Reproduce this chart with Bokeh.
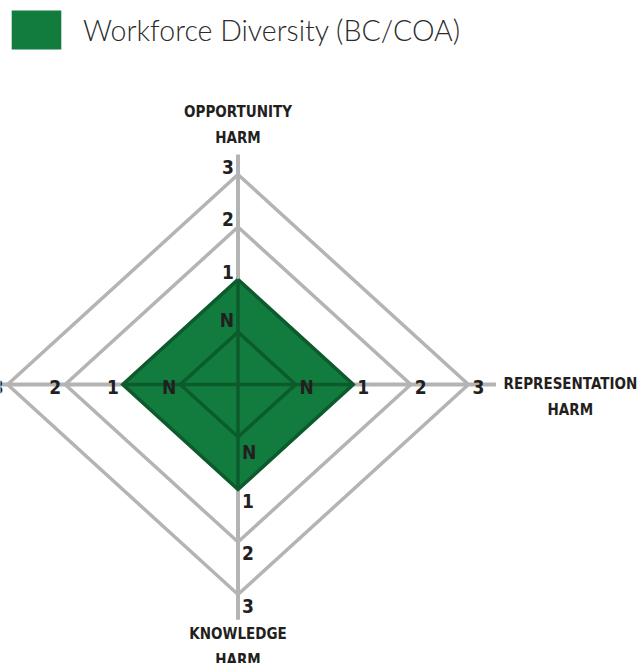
import math
from bokeh.plotting import figure
from bokeh.models import Range1d, ColumnDataSource, Legend, LegendItem
from bokeh.core.properties import value
from bokeh.embed import file_html
from bokeh.resources import INLINE

# ---- data ----
series_name = "Workforce Diversity (BC/COA)"
axis_titles = ["OPPORTUNITY\nHARM", "REPRESENTATION\nHARM", "KNOWLEDGE\nHARM", ""]
axis_angles = [90, 0, -90, 180]          # degrees
level_labels = ["N", "1", "2", "3"]
series_values = [1, 1, 1, 1]             # index into level_labels per axis

# ---- layout constants ----
W, H = 637, 663
SX, SY = 57.6, 52.5                      # px per radial unit (x, y)
CX, CY = 237.5, 384                      # centre in frame px (from left, from top)
GRAY = "#b4b4b4"
FILL = "#127b3e"
DARK = "#0c5b2c"
LABEL_FONT = value("'DejaVu Sans Condensed', 'Roboto Condensed', 'Liberation Sans Narrow', sans-serif")
TXT = "#231f20"

p = figure(width=W, height=H, output_backend="svg", toolbar_location=None,
           x_range=Range1d(-CX / SX, (W - CX) / SX),
           y_range=Range1d(-(H - CY) / SY, CY / SY),
           min_border=0, outline_line_color=None)
p.axis.visible = False
p.grid.visible = False
p.background_fill_color = "white"

def radius(level_index):
    return level_index + 1

def pt(angle, r):
    a = math.radians(angle)
    return r * math.cos(a), r * math.sin(a)

nlev = len(level_labels)

# gray grid diamonds (levels 1..3)
for li in range(1, nlev):
    xs, ys = [], []
    for ang in axis_angles + [axis_angles[0]]:
        x, y = pt(ang, radius(li))
        xs.append(x); ys.append(y)
    p.line(xs, ys, line_color=GRAY, line_width=3.5, line_join="miter")

# gray axis spokes
spoke_len = {90: 4.38, 0: 4.48, -90: 4.48, 180: 4.6}
for ang in axis_angles:
    x, y = pt(ang, spoke_len[ang])
    p.line([0, x], [0, y], line_color=GRAY, line_width=4)

# series polygon (fill)
sx, sy = [], []
for ang, v in zip(axis_angles, series_values):
    x, y = pt(ang, radius(v))
    sx.append(x); sy.append(y)
fill_r = p.patch(sx, sy, fill_color=FILL, line_color=None)

# inner dark lines: spokes and N diamond inside the polygon
for ang, v in zip(axis_angles, series_values):
    x, y = pt(ang, radius(v))
    p.line([0, x], [0, y], line_color=DARK, line_width=3.5)
nx, ny = [], []
for ang in axis_angles + [axis_angles[0]]:
    x, y = pt(ang, radius(0))
    nx.append(x); ny.append(y)
p.line(nx, ny, line_color=DARK, line_width=3.5, line_join="miter")
p.line(sx + [sx[0]], sy + [sy[0]], line_color=DARK, line_width=3.5, line_join="miter")

# tick labels along each axis
tick_style = {
    90:  dict(text_align="right", text_baseline="bottom", x_offset=-4, y_offset=-1),
    0:   dict(text_align="left", text_baseline="middle", x_offset=4, y_offset=2),
    -90: dict(text_align="left", text_baseline="top", x_offset=4, y_offset=4),
    180: dict(text_align="right", text_baseline="middle", x_offset=-4, y_offset=2),
}
for ang in axis_angles:
    xs, ys = [], []
    for li in range(nlev):
        x, y = pt(ang, radius(li))
        xs.append(x); ys.append(y)
    src = ColumnDataSource(dict(x=xs, y=ys, t=level_labels))
    p.text("x", "y", text="t", source=src, text_font=LABEL_FONT,
           text_font_style="bold", text_font_size="19px", text_color=TXT,
           **tick_style[ang])

# axis titles
title_pos = {90: (4.52, "center", "bottom"), 0: (5.77, "center", "top"),
             -90: (4.58, "center", "top"), 180: (5.0, "center", "top")}
for ang, t in zip(axis_angles, axis_titles):
    if not t:
        continue
    r, al, bl = title_pos[ang]
    x, y = pt(ang, r)
    yo = -10 if ang == 0 else 0
    p.text([x], [y], text=[t], text_font=LABEL_FONT, text_font_style="bold",
           text_font_size="15px", text_color=TXT, text_align=al,
           text_baseline=bl, text_line_height=1.45, y_offset=yo)

legend = Legend(items=[LegendItem(label=series_name, renderers=[fill_r])],
                location="top_left", margin=0, padding=5,
                glyph_width=62, glyph_height=49, label_standoff=16,
                label_text_font="'Lato Light', Lato", label_text_font_size="28.5px",
                label_text_color="#2b2b2b", border_line_alpha=0,
                background_fill_alpha=0, label_height=49)
p.add_layout(legend)

open("out.html", "w").write(file_html(p, INLINE))
